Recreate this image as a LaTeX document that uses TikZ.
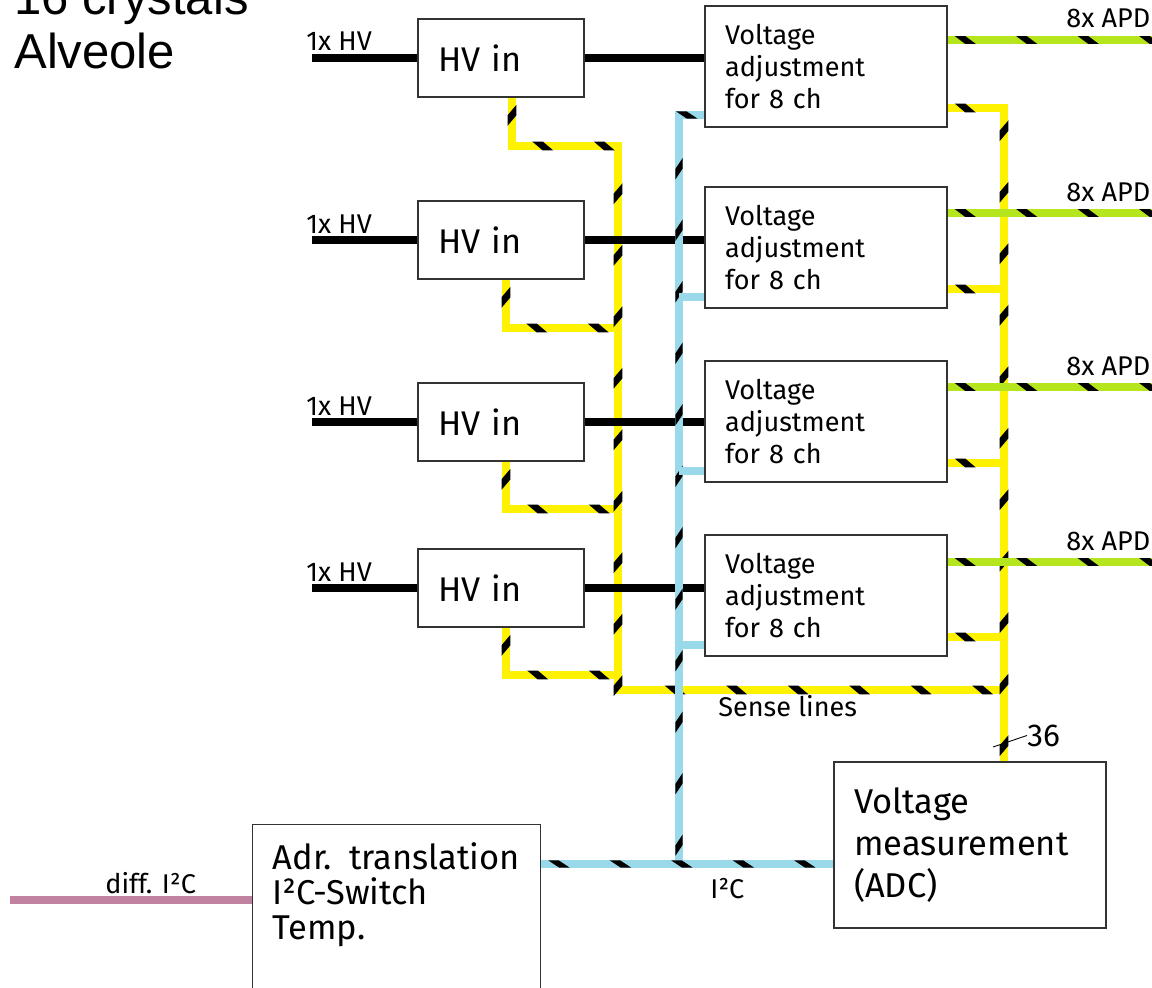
\documentclass[tikz,border=0pt]{standalone}
\usepackage{fontspec}
\setmainfont{Fira Sans}
\newfontfamily\titlefont{Liberation Sans}
\usetikzlibrary{decorations.markings, calc}

\definecolor{senseyellow}{RGB}{255,242,0}
\definecolor{apdgreen}{RGB}{181,230,29}
\definecolor{i2cblue}{RGB}{153,217,234}
\definecolor{diffpink}{RGB}{193,130,160}

\begin{document}
\begin{tikzpicture}[
  x = 0.02cm, y = -0.02cm,
  box/.style     = {draw=black!80, line width=0.8pt, fill=white, rectangle,
                    align=left, inner xsep=0.4cm, inner ysep=0pt},
  hvbox/.style   = {box, minimum width=3.32cm, minimum height=1.56cm,
                    text width=2.52cm, font=\fontsize{19.5}{23}\selectfont},
  adjbox/.style  = {box, minimum width=4.84cm, minimum height=2.42cm,
                    text width=4.04cm, font=\fontsize{15.4}{18}\selectfont},
  adcbox/.style  = {box, minimum width=5.44cm, minimum height=3.32cm,
                    text width=4.64cm, font=\fontsize{19.6}{24}\selectfont},
  ctrlbox/.style = {box, minimum width=5.76cm, text width=4.96cm,
                    inner ysep=0.36cm, text depth=2.8cm,
                    font=\fontsize{19.6}{20}\selectfont},
  lbl/.style     = {font=\fontsize{15.4}{18}\selectfont, inner sep=0pt},
  biglbl/.style  = {lbl, font=\fontsize{18}{20}\selectfont},
  title/.style   = {font=\titlefont\fontsize{27.9}{30.2}\selectfont,
                    align=left, inner sep=0pt},
  stripes/.style = {postaction={decorate, decoration={markings,
                    mark=between positions 8pt and -3pt step 35pt with
                    {\fill[black] (-4pt,#1) -- (2pt,#1) -- (8pt,-#1) -- (2pt,-#1) -- cycle;}}}},
  hvline/.style  = {line width=4.5pt, draw=black},
  sense/.style   = {line width=5.1pt, draw=senseyellow, stripes=2.55pt},
  i2c/.style     = {line width=4pt, draw=i2cblue},
  i2cbus/.style  = {i2c, stripes=2pt},
  apd/.style     = {line width=4.5pt, draw=apdgreen, stripes=2.25pt},
  diffline/.style= {line width=4.5pt, draw=diffpink}
]
\clip (0,0) rectangle (1152,987);

%── Titel ─────────────────────────────────────────────────────────────────
\node[title, anchor=base west] (title) at (14,68) {16 crystals\\Alveole};

%── HV in ─────────────────────────────────────────────────────────────────
\node[hvbox] (hv1) at (501,58)  {HV in};
\node[hvbox] (hv2) at (501,240) {HV in};
\node[hvbox] (hv3) at (501,422) {HV in};
\node[hvbox] (hv4) at (501,588) {HV in};

%── Voltage adjustment ────────────────────────────────────────────────────
\node[adjbox] (adj1) at (826,66.5)  {Voltage\\adjustment\\for 8 ch};
\node[adjbox] (adj2) at (826,247.5) {Voltage\\adjustment\\for 8 ch};
\node[adjbox] (adj3) at (826,421.5) {Voltage\\adjustment\\for 8 ch};
\node[adjbox] (adj4) at (826,595.5) {Voltage\\adjustment\\for 8 ch};

%── ADC und Controller ────────────────────────────────────────────────────
\node[adcbox] (adc) at (970,845) {Voltage\\measurement\\(ADC)};
\node[ctrlbox, anchor=north west] (adr) at (252,824)
  {Adr. translation\\I²C-Switch\\Temp.};

%── Hilfspunkte ───────────────────────────────────────────────────────────
\coordinate (hvin1) at (312,58);
\coordinate (hvin2) at (312,240);
\coordinate (hvin3) at (312,422);
\coordinate (hvin4) at (312,588);
\coordinate (apdout1) at (1160,40);
\coordinate (apdout2) at (1160,213);
\coordinate (apdout3) at (1160,387);
\coordinate (apdout4) at (1160,562);
\coordinate (sensetop) at (618,146);
\coordinate (sensebot) at (618,690);
\coordinate (sensecorner) at (1004,690);
\coordinate (i2cjoin) at (679,864);
\coordinate (diffin) at (10,900);

%── Sense lines ───────────────────────────────────────────────────────────
\draw[sense] ($(hv2.south)+(5,0)$) |- (sensetop |- 0,328);
\draw[sense] ($(hv3.south)+(5,0)$) |- (sensetop |- 0,509);
\draw[sense] ($(hv4.south)+(5,0)$) |- (sensetop |- 0,675);
\draw[sense] ($(hv1.south)+(11,0)$) |- (sensetop) -- (sensebot) -- (sensecorner);
\draw[sense] (adj2.east |- 0,289) -- (sensecorner |- 0,289);
\draw[sense] (adj3.east |- 0,463) -- (sensecorner |- 0,463);
\draw[sense] (adj4.east |- 0,637) -- (sensecorner |- 0,637);
\draw[sense] (adj1.east |- 0,108) -| (adc.north -| sensecorner);

%── HV ────────────────────────────────────────────────────────────────────
\draw[hvline] (hvin1) -- (hv1);
\draw[hvline] (hvin2) -- (hv2);
\draw[hvline] (hvin3) -- (hv3);
\draw[hvline] (hvin4) -- (hv4);
\draw[hvline] (hv1) -- (hv1 -| adj1.west);
\draw[hvline] (hv2) -- (hv2 -| adj2.west);
\draw[hvline] (hv3) -- (hv3 -| adj3.west);
\draw[hvline] (hv4) -- (hv4 -| adj4.west);

%── I2C ───────────────────────────────────────────────────────────────────
\draw[i2cbus] (adj1.west |- 0,115) -| (i2cjoin);
\draw[i2c] (i2cjoin |- 0,297) -- (adj2.west |- 0,297);
\draw[i2c] (i2cjoin |- 0,471) -- (adj3.west |- 0,471);
\draw[i2c] (i2cjoin |- 0,645) -- (adj4.west |- 0,645);
\draw[i2cbus] (adr.east |- i2cjoin) -- (adc.west |- i2cjoin);
\draw[diffline] (diffin) -- (adr.west |- diffin);

%── APD ───────────────────────────────────────────────────────────────────
\draw[apd] (adj1.east |- apdout1) -- (apdout1);
\draw[apd] (adj2.east |- apdout2) -- (apdout2);
\draw[apd] (adj3.east |- apdout3) -- (apdout3);
\draw[apd] (adj4.east |- apdout4) -- (apdout4);

%── Beschriftung ──────────────────────────────────────────────────────────
\node[lbl, anchor=base west] (hvlbl1) at (306,51)  {1x HV};
\node[lbl, anchor=base west] (hvlbl2) at (306,233) {1x HV};
\node[lbl, anchor=base west] (hvlbl3) at (306,415) {1x HV};
\node[lbl, anchor=base west] (hvlbl4) at (306,581) {1x HV};
\node[lbl, anchor=base west] (apdlbl1) at (1066,28)  {8x APD};
\node[lbl, anchor=base west] (apdlbl2) at (1066,201) {8x APD};
\node[lbl, anchor=base west] (apdlbl3) at (1066,375) {8x APD};
\node[lbl, anchor=base west] (apdlbl4) at (1066,550) {8x APD};
\node[lbl, anchor=base west] (senselbl) at (718,716) {Sense lines};
\node[biglbl, anchor=base west] (countlbl) at (1027,746) {36};
\draw[line width=0.5pt] (993,747) -- (countlbl.west);
\node[lbl, anchor=base west] (i2clbl) at (710,898) {I²C};
\node[lbl, anchor=base west] (difflbl) at (105,893) {diff. I²C};

\end{tikzpicture}
\end{document}
